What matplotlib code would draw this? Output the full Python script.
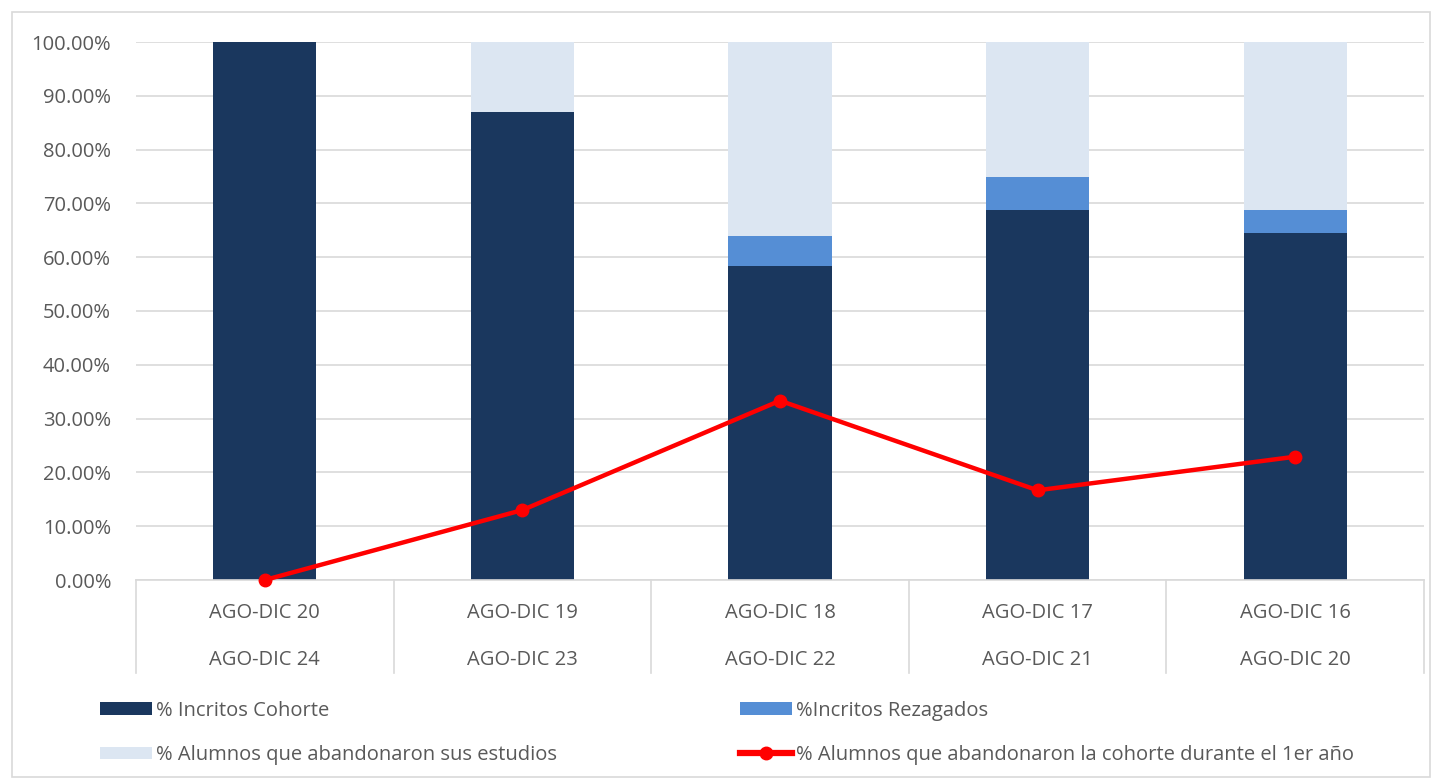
import numpy as np
import matplotlib.pyplot as plt
import matplotlib.transforms as mtransforms
from matplotlib.patches import Rectangle
from matplotlib.ticker import FuncFormatter

plt.rcParams['font.family'] = ['Open Sans', 'DejaVu Sans']

# Data
periodo_ingreso = ['AGO-DIC 20', 'AGO-DIC 19', 'AGO-DIC 18', 'AGO-DIC 17', 'AGO-DIC 16']
periodo_egreso = ['AGO-DIC 24', 'AGO-DIC 23', 'AGO-DIC 22', 'AGO-DIC 21', 'AGO-DIC 20']
incritos_cohorte = [100.0, 87.0, 58.33, 68.75, 64.58]
incritos_rezagados = [0.0, 0.0, 5.56, 6.25, 4.17]
abandonaron_estudios = [0.0, 13.0, 36.11, 25.0, 31.25]
abandonaron_1er_anio = [0.0, 13.0, 33.33, 16.67, 22.92]

c_dark = '#1A375E'
c_mid = '#558ED5'
c_light = '#DCE6F2'
c_red = '#FF0000'
c_text = '#595959'
c_grid = '#D9D9D9'
fs = 14.5

fig = plt.figure(figsize=(14.35, 7.81), dpi=100)
ax = fig.add_axes([136 / 1435, 1 - 580 / 781, (1424 - 136) / 1435, (580 - 42) / 781])

x = np.arange(len(periodo_ingreso))
w = 0.4
b1 = ax.bar(x, incritos_cohorte, w, color=c_dark, label='% Incritos Cohorte', zorder=2)
b2 = ax.bar(x, incritos_rezagados, w, bottom=incritos_cohorte, color=c_mid,
            label='%Incritos Rezagados', zorder=2)
bottom3 = np.array(incritos_cohorte) + np.array(incritos_rezagados)
b3 = ax.bar(x, abandonaron_estudios, w, bottom=bottom3, color=c_light,
            label='% Alumnos que abandonaron sus estudios', zorder=2)
ln, = ax.plot(x, abandonaron_1er_anio, color=c_red, lw=3.2, marker='o', markersize=9,
              label='% Alumnos que abandonaron la cohorte durante el 1er año', zorder=3,
              clip_on=False)

ax.set_xlim(-0.5, len(x) - 0.5)
ax.set_ylim(0, 100)
ax.set_yticks(np.arange(0, 101, 10))
ax.yaxis.set_major_formatter(FuncFormatter(lambda v, p: f'{v:.2f}%'))
ax.tick_params(axis='y', length=0, pad=18, labelsize=fs, labelcolor=c_text)
ax.set_xticks([])
ax.grid(axis='y', color=c_grid, lw=1.2, zorder=0)
for s in ['top', 'right', 'left']:
    ax.spines[s].set_visible(False)
ax.spines['bottom'].set_color(c_grid)
ax.spines['bottom'].set_linewidth(1.2)

# two-level category axis
trans = mtransforms.blended_transform_factory(ax.transData, ax.transAxes)
px = 1 / (580 - 42)
for i in range(len(x) + 1):
    ax.plot([i - 0.5, i - 0.5], [0, -93 * px], color=c_grid, lw=1.2,
            transform=trans, clip_on=False)
for i in range(len(x)):
    ax.text(i, -33 * px, periodo_ingreso[i], transform=trans, ha='center', va='center',
            fontsize=fs, color=c_text)
    ax.text(i, -80 * px, periodo_egreso[i], transform=trans, ha='center', va='center',
            fontsize=fs, color=c_text)

# outer chart frame
fig.patches.append(Rectangle((12 / 1435, 4 / 781), 1418 / 1435, 765 / 781,
                             transform=fig.transFigure, fill=False,
                             edgecolor=c_grid, lw=1.2))

leg_kw = dict(loc='center left', frameon=False, fontsize=fs, handlelength=2.6,
              handleheight=0.6, handletextpad=0.2, labelspacing=1.2,
              labelcolor=c_text, borderaxespad=0, borderpad=0)
leg1 = fig.legend([b1, b3], [b1.get_label(), b3.get_label()],
                  bbox_to_anchor=(100 / 1435, 1 - 733 / 781), **leg_kw)
leg2 = fig.legend([b2, ln], [b2.get_label(), ln.get_label()],
                  bbox_to_anchor=(740 / 1435, 1 - 733 / 781), **leg_kw)
leg2.get_lines()[0].set_linewidth(4.5)

fig.savefig('out.png', dpi=100)
